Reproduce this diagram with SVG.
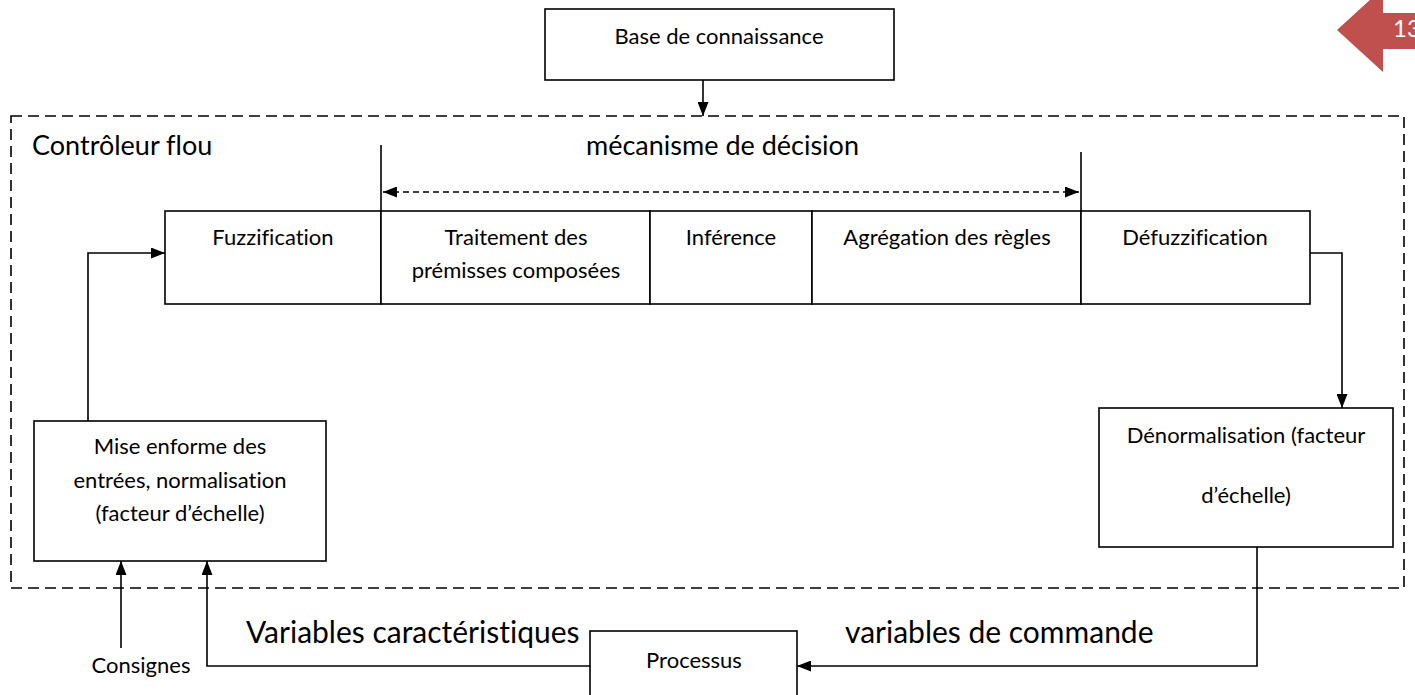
<svg xmlns="http://www.w3.org/2000/svg" width="1415" height="695" viewBox="0 0 1415 695">
<style>
text{font-variant-ligatures:none;font-feature-settings:"liga" 0}
.box{fill:#fff;stroke:#000;stroke-width:1.6}
.t{font-family:Lato,"Liberation Sans",sans-serif;font-size:22px;fill:#000;text-anchor:middle}
.big{font-family:Lato,"Liberation Sans",sans-serif;font-size:27px;fill:#000}
.lbl{font-family:Lato,"Liberation Sans",sans-serif;font-size:30px;fill:#000}
.ln{fill:none;stroke:#000;stroke-width:1.6}
</style>
<defs>
<marker id="ah" viewBox="0 0 14 11" refX="14" refY="5.5" markerWidth="14" markerHeight="11" markerUnits="userSpaceOnUse" orient="auto-start-reverse">
<path d="M0,0 L14,5.5 L0,11 Z" fill="#000"/>
</marker>
</defs>
<rect width="1415" height="695" fill="#fff"/>
<g id="page-tag">
<polygon points="1337,30 1383,-12 1383,13 1415,13 1415,49 1383,49 1383,72" fill="#C0504D"/>
<text x="1393" y="37" font-family="Lato,'Liberation Sans',sans-serif" font-size="24" fill="#fff">13</text>
</g>
<g id="controleur">
<rect x="11" y="116" width="1393" height="472" fill="none" stroke="#000" stroke-width="1.6" stroke-dasharray="11,6"/>
<text class="big" x="32" y="155">Contrôleur flou</text>
<text class="big" x="586" y="155">mécanisme de décision</text>
</g>
<g id="base">
<rect class="box" x="545" y="9" width="349" height="71"/>
<text class="t" x="719" y="44">Base de connaissance</text>
</g>
<g id="fuzzification">
<rect class="box" x="165" y="211" width="216" height="93"/>
<text class="t" x="273" y="245">Fuzzification</text>
</g>
<g id="traitement">
<rect class="box" x="381" y="211" width="269" height="93"/>
<text class="t" x="516" y="245">Traitement des</text>
<text class="t" x="516" y="278">prémisses composées</text>
</g>
<g id="inference">
<rect class="box" x="650" y="211" width="162" height="93"/>
<text class="t" x="731" y="245">Inférence</text>
</g>
<g id="agregation">
<rect class="box" x="812" y="211" width="269" height="93"/>
<text class="t" x="947" y="245">Agrégation des règles</text>
</g>
<g id="defuzzification">
<rect class="box" x="1081" y="211" width="229" height="93"/>
<text class="t" x="1195" y="245">Défuzzification</text>
</g>
<g id="mise-en-forme">
<rect class="box" x="34" y="421" width="292" height="140"/>
<text class="t" x="180" y="454">Mise enforme des</text>
<text class="t" x="180" y="488">entrées, normalisation</text>
<text class="t" x="180" y="521">(facteur d’échelle)</text>
</g>
<g id="denormalisation">
<rect class="box" x="1099" y="408" width="294" height="139"/>
<text class="t" x="1246" y="443">Dénormalisation (facteur</text>
<text class="t" x="1246" y="503">d’échelle)</text>
</g>
<g id="processus">
<rect class="box" x="590" y="631" width="207" height="80"/>
<text class="t" x="694" y="668">Processus</text>
</g>
<g id="consignes">
<text class="t" x="141" y="673">Consignes</text>
</g>
<g id="labels">
<text class="lbl" x="246" y="643">Variables caractéristiques</text>
<text class="lbl" x="845" y="643">variables de commande</text>
</g>
<g id="connectors">
<line class="ln" x1="381" y1="145" x2="381" y2="211"/>
<line class="ln" x1="1081" y1="152" x2="1081" y2="211"/>
<line class="ln" x1="383" y1="192" x2="1079" y2="192" stroke-dasharray="6,4" marker-start="url(#ah)" marker-end="url(#ah)"/>
<line class="ln" x1="703" y1="80" x2="703" y2="116" marker-end="url(#ah)"/>
<polyline class="ln" points="88,421 88,253 165,253" marker-end="url(#ah)"/>
<polyline class="ln" points="1310,253 1342,253 1342,408" marker-end="url(#ah)"/>
<polyline class="ln" points="1257,547 1257,666 797,666" marker-end="url(#ah)"/>
<polyline class="ln" points="590,666 207,666 207,561" marker-end="url(#ah)"/>
<line class="ln" x1="121" y1="648" x2="121" y2="561" marker-end="url(#ah)"/>
</g>
</svg>
